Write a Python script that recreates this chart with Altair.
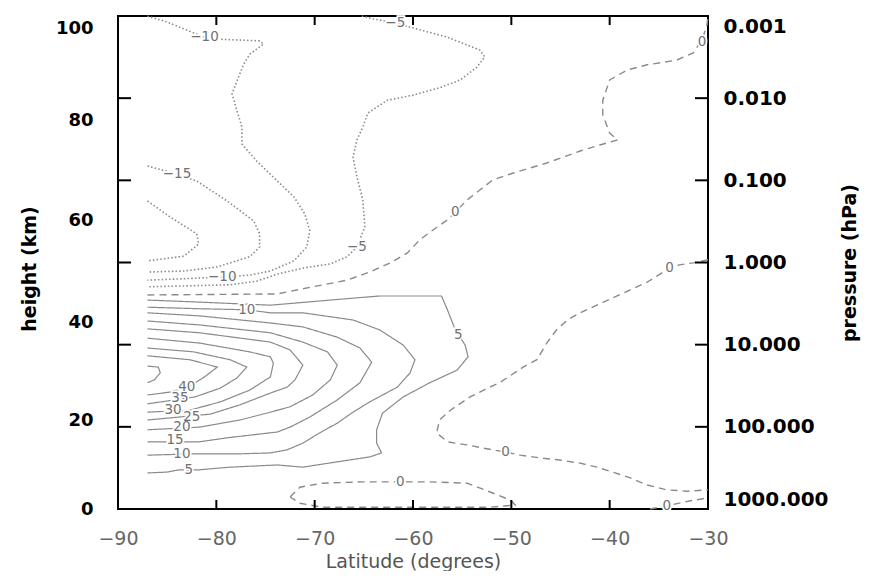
import altair as alt
import pandas as pd

# ---------------- data ----------------
# contour lines: latitude (deg) and height (km)
pos5_lat = [-87.0, -81.7, -74.5, -68.4, -63.4, -57.1, -56.5, -55.7, -54.7, -54.4, -55.5, -58.3, -61.0, -63.1, -63.7, -63.7, -63.2, -64.4, -67.7, -71.2, -73.8, -78.6, -81.8, -83.8, -85.0, -87.0]
pos5_h = [44.3, 43.9, 43.3, 44.3, 45.1, 45.1, 42.4, 38.4, 35.3, 32.9, 30.2, 27.6, 24.7, 21.4, 17.8, 14.8, 12.6, 11.7, 10.6, 9.4, 9.9, 9.4, 8.8, 8.8, 8.3, 8.1]

pos10_lat = [-87.0, -81.7, -76.9, -74.5, -71.2, -66.1, -63.4, -61.0, -59.8, -60.3, -61.6, -64.4, -66.1, -67.7, -69.5, -71.2, -72.8, -74.5, -77.6, -82.0, -87.0]
pos10_h = [42.9, 42.6, 42.4, 41.8, 41.8, 40.4, 38.4, 35.3, 32.3, 29.6, 26.7, 23.7, 21.6, 19.3, 17.1, 14.8, 13.3, 12.6, 12.4, 12.4, 12.1]

pos15_lat = [-87.0, -81.7, -74.5, -71.2, -67.7, -65.4, -64.2, -65.4, -67.7, -70.5, -72.5, -73.8, -78.9, -81.7, -87.0]
pos15_h = [41.8, 41.2, 39.8, 39.0, 36.9, 34.7, 31.8, 27.6, 24.1, 20.6, 18.4, 17.3, 16.0, 15.1, 15.1]

pos20_lat = [-87.0, -81.7, -74.5, -71.2, -68.7, -67.7, -68.4, -70.2, -72.5, -74.5, -77.6, -81.7, -87.0]
pos20_h = [40.2, 39.4, 37.8, 35.9, 33.9, 31.2, 28.2, 25.1, 22.7, 21.6, 20.0, 18.4, 17.8]

pos25_lat = [-87.0, -81.7, -74.5, -72.5, -71.2, -72.0, -72.8, -74.5, -77.6, -80.6, -87.0]
pos25_h = [38.6, 37.8, 35.9, 34.3, 31.2, 28.2, 26.7, 25.5, 23.1, 21.2, 20.0]

pos30_lat = [-87.0, -81.7, -76.6, -74.5, -74.2, -74.5, -76.6, -79.6, -82.7, -87.0]
pos30_h = [36.7, 35.7, 33.9, 32.9, 31.6, 28.8, 26.1, 23.7, 22.0, 21.6]

pos35_lat = [-87.0, -82.3, -78.6, -76.9, -77.9, -79.6, -82.2, -87.0]
pos35_h = [34.7, 33.9, 32.3, 30.8, 28.6, 26.5, 24.7, 23.3]

pos40_lat = [-87.0, -82.7, -79.9, -81.2, -82.7, -84.7, -87.0]
pos40_h = [33.1, 32.3, 30.8, 28.8, 26.9, 25.7, 25.1]

pos45_lat = [-87.0, -85.9, -85.7, -86.3, -87.0]
pos45_h = [31.0, 30.8, 29.6, 28.2, 27.6]

neg20_lat = [-87.0, -84.7, -82.0, -81.8, -83.3, -87.0]
neg20_h = [63.8, 60.6, 57.3, 55.3, 52.9, 52.0]

neg15_lat = [-87.0, -84.0, -82.0, -78.9, -76.2, -75.6, -75.6, -76.6, -79.9, -83.3, -87.0]
neg15_h = [70.8, 69.2, 67.8, 63.8, 59.8, 57.3, 54.7, 52.8, 50.8, 50.0, 49.8]

neg10_lat = [-87.0, -85.0, -83.3, -81.2, -80.2, -75.6, -75.2, -76.6, -77.2, -77.9, -78.4, -77.9, -77.4, -77.4, -75.9, -73.8, -72.1, -71.0, -70.5, -70.8, -72.1, -74.5, -76.6, -79.4, -87.0]
neg10_h = [102.6, 101.3, 99.8, 98.0, 97.6, 97.2, 96.5, 94.3, 92.2, 88.5, 85.7, 82.0, 78.6, 75.2, 71.8, 67.8, 64.6, 61.2, 57.9, 54.7, 52.0, 50.0, 49.2, 48.8, 48.2]

neg5_lat = [-65.2, -64.1, -61.8, -60.0, -56.5, -53.2, -52.7, -53.5, -55.2, -57.3, -60.0, -62.6, -64.6, -65.1, -65.7, -66.1, -65.7, -65.1, -64.9, -65.7, -66.7, -68.4, -71.1, -73.8, -75.9, -78.6, -82.7, -87.0]
neg5_h = [102.6, 102.0, 101.1, 100.0, 98.0, 95.2, 93.7, 91.5, 88.7, 87.0, 85.4, 84.3, 81.5, 78.6, 76.0, 72.6, 68.6, 64.0, 58.6, 54.7, 52.8, 51.4, 50.6, 49.4, 48.0, 47.3, 47.1, 46.9]

zeroA_lat = [-87.0, -73.8, -70.2, -66.7, -64.4, -62.3, -60.6, -59.3, -58.0, -56.5, -55.7, -54.5, -53.2, -51.9, -49.8, -46.4, -43.0, -41.0, -39.2, -40.0, -40.7, -40.7, -40.0, -38.2, -36.2, -33.2, -31.5, -30.6, -30.1, -30.0]
zeroA_h = [45.3, 45.5, 46.9, 48.2, 49.8, 51.6, 53.5, 56.1, 58.0, 60.0, 61.6, 64.0, 66.0, 68.0, 69.4, 71.4, 73.8, 75.0, 76.0, 77.4, 81.1, 84.3, 88.7, 90.9, 92.0, 93.0, 94.6, 97.4, 100.7, 102.6]

zeroB_lat = [-30.0, -31.5, -32.9, -33.9, -34.7, -36.2, -37.9, -39.7, -41.3, -43.0, -44.3, -45.4, -46.4, -47.4, -48.8, -51.2, -52.2, -54.2, -56.2, -57.3, -57.6, -56.5, -54.5, -52.9, -50.6, -49.1, -47.1, -45.1, -43.0, -41.3, -39.7, -37.9, -36.2, -34.2, -32.1, -30.0]
zeroB_h = [52.2, 51.6, 51.2, 50.6, 49.6, 47.8, 46.3, 44.7, 43.3, 41.8, 40.4, 38.4, 35.7, 32.3, 30.8, 27.6, 26.7, 24.7, 22.0, 20.0, 17.1, 15.1, 14.4, 13.7, 12.8, 12.1, 11.5, 11.0, 10.3, 9.4, 8.3, 7.0, 5.4, 4.3, 4.0, 4.3]

zeroC_lat = [-72.5, -71.5, -69.2, -65.1, -61.3, -58.3, -54.5, -51.9, -50.1, -49.6, -52.2, -59.3, -66.4, -69.2, -71.5, -72.5]
zeroC_h = [2.7, 4.9, 5.8, 6.1, 6.1, 6.1, 5.8, 3.6, 2.0, 0.9, 0.4, 0.4, 0.4, 0.4, 1.3, 2.7]

zeroD_lat = [-35.9, -34.2, -31.9, -30.0]
zeroD_h = [0.0, 0.7, 1.8, 2.5]

# contour labels
lab_text = ["5", "5", "10", "10", "15", "20", "25", "30", "35", "40",
            "0", "0", "0", "0", "0", "0", "\u22125", "\u22125", "\u221210", "\u221210", "\u221215"]
lab_lat = [-82.8, -55.4, -76.9, -83.5, -84.2, -83.5, -82.5, -84.4, -83.7, -83.0,
           -55.7, -30.6, -33.9, -50.6, -61.3, -34.2, -65.7, -61.8, -81.2, -79.4, -84.0]
lab_h = [8.8, 37.4, 42.4, 12.4, 15.5, 18.4, 20.6, 22.0, 24.5, 26.7,
         61.6, 97.0, 50.6, 12.8, 6.1, 0.7, 54.7, 101.1, 98.0, 48.8, 69.2]

# axes
lat_labels = [-90, -80, -70, -60, -50, -40, -30]
lat_inner_ticks = [-80, -70, -60, -50, -40]
height_labels = [0, 20, 40, 60, 80, 100]
pressure_labels = [0.001, 0.01, 0.1, 1, 10, 100, 1000]
pressure_inner_ticks = [0.01, 0.1, 1, 10, 100]

# ---------------- build tables ----------------
contours = [
    ("pos5", "pos", pos5_lat, pos5_h), ("pos10", "pos", pos10_lat, pos10_h),
    ("pos15", "pos", pos15_lat, pos15_h), ("pos20", "pos", pos20_lat, pos20_h),
    ("pos25", "pos", pos25_lat, pos25_h), ("pos30", "pos", pos30_lat, pos30_h),
    ("pos35", "pos", pos35_lat, pos35_h), ("pos40", "pos", pos40_lat, pos40_h),
    ("pos45", "pos", pos45_lat, pos45_h),
    ("neg20", "neg", neg20_lat, neg20_h), ("neg15", "neg", neg15_lat, neg15_h),
    ("neg10", "neg", neg10_lat, neg10_h), ("neg5", "neg", neg5_lat, neg5_h),
    ("zeroA", "zero", zeroA_lat, zeroA_h), ("zeroB", "zero", zeroB_lat, zeroB_h),
    ("zeroC", "zero", zeroC_lat, zeroC_h), ("zeroD", "zero", zeroD_lat, zeroD_h),
]
rows = []
for cid, kind, lats, hs in contours:
    for i, (la, hh) in enumerate(zip(lats, hs)):
        rows.append({"cid": cid, "kind": kind, "idx": i, "lat": la, "h": hh})
df = pd.DataFrame(rows)
labels_df = pd.DataFrame({"text": lab_text, "lat": lab_lat, "h": lab_h})
xt_df = pd.DataFrame({"lat": lat_inner_ticks})
pt_df = pd.DataFrame({"p": pressure_inner_ticks})

W, H = 590, 493
LINE = "#8a8a8a"
FONT = "DejaVu Sans"

x_enc = alt.X(
    "lat:Q",
    scale=alt.Scale(domain=[-90, -30], nice=False, zero=False),
    axis=alt.Axis(values=lat_labels, ticks=False, tickSize=0, domain=False, grid=False,
                  labelFont=FONT, labelFontSize=19, labelColor="#666666", labelPadding=20,
                  labelFlush=False, title="Latitude (degrees)", titleFont=FONT,
                  titleFontSize=19, titleFontWeight="normal", titleColor="#555555",
                  titlePadding=4),
)
height_scale = alt.Scale(domain=height_labels, range=[493, 404, 306, 204, 104, 12],
                         nice=False, zero=False)
y_enc = alt.Y(
    "h:Q", scale=height_scale,
    axis=alt.Axis(values=height_labels, orient="left", ticks=False, tickSize=0, domain=False,
                  grid=False, labelFont=FONT, labelFontSize=18, labelFontWeight="bold",
                  labelColor="black", labelPadding=25, title="height (km)", titleFont=FONT,
                  titleFontSize=19, titleFontWeight="bold", titleColor="black",
                  titlePadding=16),
)

lines = alt.Chart(df).mark_line(color=LINE).encode(
    x=x_enc, y=y_enc, detail="cid:N", order="idx:Q",
    strokeDash=alt.StrokeDash("kind:N", legend=None,
                              scale=alt.Scale(domain=["neg", "zero", "pos"],
                                              range=[[1.5, 2.2], [7, 5], [1, 0]])),
    strokeWidth=alt.StrokeWidth("kind:N", legend=None,
                                scale=alt.Scale(domain=["neg", "zero", "pos"],
                                                range=[1.6, 1.2, 1.0])),
)
halo = alt.Chart(labels_df).mark_text(font=FONT, fontSize=13.5, color="white",
                                      stroke="white", strokeWidth=3.5).encode(
    x=x_enc, y=y_enc, text="text:N")
texts = alt.Chart(labels_df).mark_text(font=FONT, fontSize=13.5, color="#707070").encode(
    x=x_enc, y=y_enc, text="text:N")
xt_bottom = alt.Chart(xt_df).mark_rule(color="black", strokeWidth=2).encode(
    x=x_enc, y=alt.value(H), y2=alt.value(H - 9))
xt_top = alt.Chart(xt_df).mark_rule(color="black", strokeWidth=2).encode(
    x=x_enc, y=alt.value(0), y2=alt.value(9))

layer_a = alt.layer(lines, halo, texts, xt_bottom, xt_top)

p_scale = alt.Scale(type="log", domain=[0.001, 1000], reverse=True, nice=False)
p_axis = alt.Axis(values=pressure_labels, format=".3f", orient="right", ticks=False,
                  tickSize=0, domain=False, grid=False, labelFlush=True,
                  labelFont=FONT, labelFontSize=20, labelFontWeight="bold",
                  labelColor="black", labelPadding=15, title="pressure (hPa)",
                  titleFont=FONT, titleFontSize=19, titleFontWeight="bold",
                  titleColor="black", titleAngle=270, titlePadding=31)
pt_left = alt.Chart(pt_df).mark_rule(color="black", strokeWidth=2).encode(
    y=alt.Y("p:Q", scale=p_scale, axis=p_axis), x=alt.value(0), x2=alt.value(13))
pt_right = alt.Chart(pt_df).mark_rule(color="black", strokeWidth=2).encode(
    y=alt.Y("p:Q", scale=p_scale, axis=p_axis), x=alt.value(W - 13), x2=alt.value(W))

layer_b = alt.layer(pt_left, pt_right)

chart = alt.layer(layer_a, layer_b).resolve_scale(y="independent").properties(
    width=W, height=H,
    autosize=alt.AutoSizeParams(type="none"),
    padding={"left": 110, "top": 8, "right": 153, "bottom": 62},
).configure_view(stroke="black", strokeWidth=2).configure_axis(grid=False)

chart.save("out.html", embed_options={"renderer": "svg", "actions": False})
